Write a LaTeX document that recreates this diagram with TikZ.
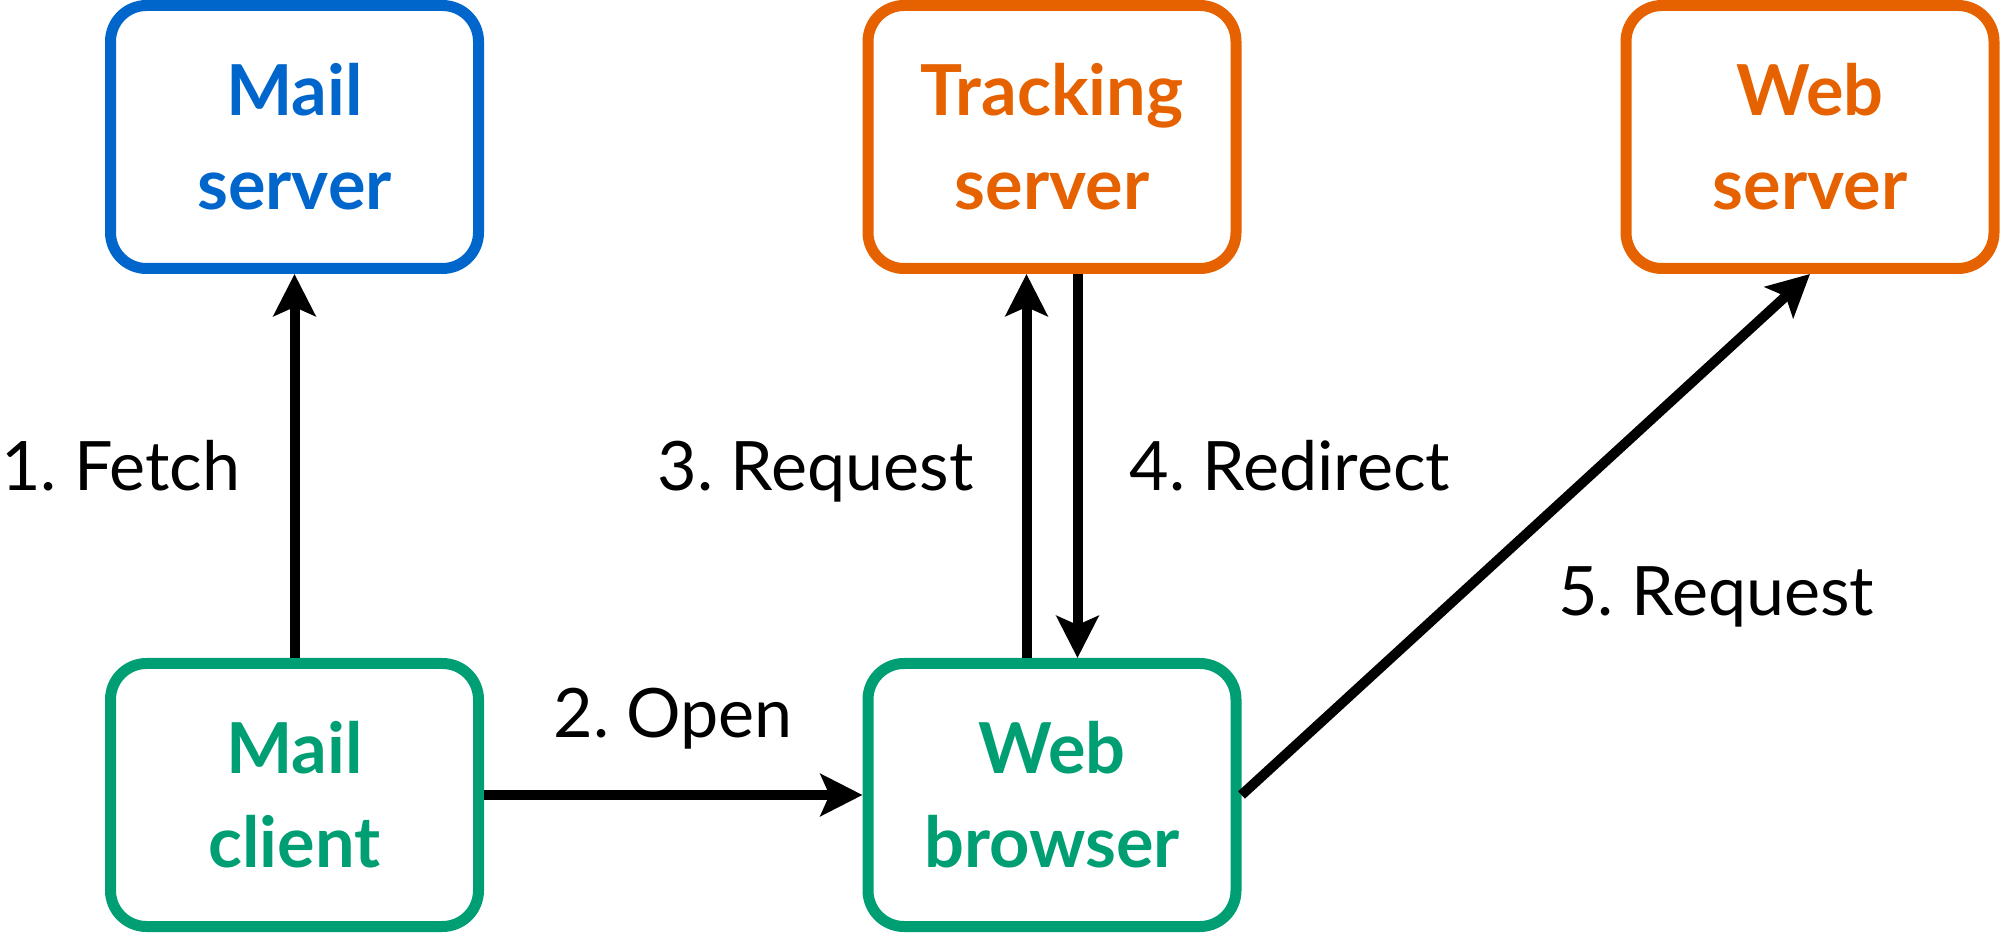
\documentclass[tikz,border=0pt]{standalone}
\usepackage{fontspec}
\setmainfont{Lato}
\usepackage{xcolor}
\usepackage{tikz}
\usetikzlibrary{arrows.meta, positioning}
\frenchspacing

\definecolor{mailblue}{HTML}{0066CC}
\definecolor{trackorange}{HTML}{E66100}
\definecolor{clientgreen}{HTML}{009E73}

\begin{document}
\begin{tikzpicture}[
                box/.style={draw, line width=0.11cm, rounded corners=0.36cm, minimum width=3.68cm, minimum height=2.63cm, inner sep=0pt, align=center, font=\fontsize{20pt}{26.7pt}\selectfont\bfseries},
                server/.style={box, draw=mailblue, text=mailblue},
                tracker/.style={box, draw=trackorange, text=trackorange},
                client/.style={box, draw=clientgreen, text=clientgreen},
                arrow/.style={-{Stealth[length=0.42cm, width=0.42cm, inset=0.09cm]}, line width=0.10cm},
                steplabel/.style={font=\fontsize{19.4pt}{24pt}\selectfont, inner sep=0pt, text height=13.9pt, text depth=0pt}
            ]
            \useasboundingbox (0,0) rectangle (20,-9.33);

            % Nodes
            \node[server] (mserver) at (2.945, -1.37) {Mail\\server};
            \node[tracker] (tracking) at (10.52, -1.37) {Tracking\\server};
            \node[tracker] (wserver) at (18.10, -1.37) {Web\\server};
            \node[client] (mclient) at (2.945, -7.95) {Mail\\client};
            \node[client] (browser) at (10.52, -7.95) {Web\\browser};

            % Edges
            \draw[arrow] (mclient) -- node[steplabel, left=0.49cm] {1. Fetch} (mserver);
            \draw[arrow] (mclient) -- node[steplabel, above=0.52cm] {2. Open} (browser);
            \draw[arrow] ([xshift=-0.255cm]browser.north) -- node[steplabel, left=0.48cm] {3. Request} ([xshift=-0.255cm]tracking.south);
            \draw[arrow] ([xshift=0.255cm]tracking.south) -- node[steplabel, right=0.47cm] {4. Redirect} ([xshift=0.255cm]browser.north);
            \draw[arrow] (browser.east) -- node[steplabel, below right=0.39cm] {5. Request} (wserver.south);
            \end{tikzpicture}
\end{document}
